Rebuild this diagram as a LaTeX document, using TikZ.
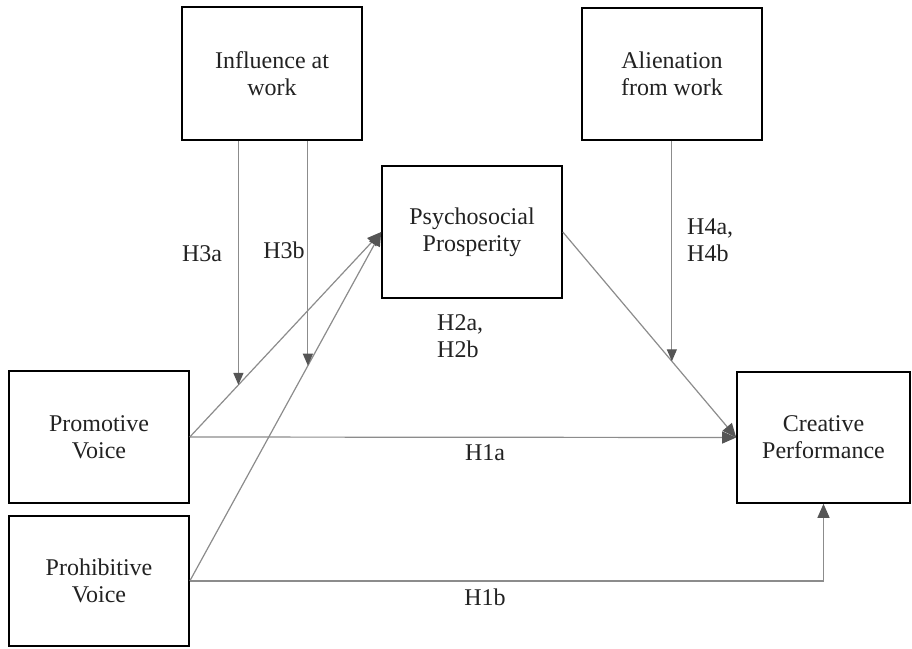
\documentclass[tikz,border=0pt]{standalone}
\usepackage{fontspec}
\setmainfont{Liberation Serif}
\usetikzlibrary{arrows.meta,calc}
\definecolor{linegray}{HTML}{8C8C8C}
\definecolor{headgray}{HTML}{555555}
\definecolor{txt}{HTML}{222222}
\begin{document}
\begin{tikzpicture}[x=1pt,y=-1pt,
  every node/.style={font=\fontsize{24}{27}\selectfont, text=txt},
  varbox/.style={draw=black, line width=1.6pt, rectangle, align=center, inner sep=0pt},
  conn/.style={draw=linegray, line width=1.2pt},
  arr/.style={conn, -{Triangle[length=14pt,width=12pt,fill=headgray,color=headgray]}},
  modarr/.style={conn, -{Triangle[length=12pt,width=10pt,fill=headgray,color=headgray]}},
  lab/.style={inner sep=0pt, align=left}]
\useasboundingbox (0,0) rectangle (912,648);
\fill[white] (0,0) rectangle (912,648);

\node[varbox, minimum width=180pt, minimum height=133pt] (inf) at (272,73.5) {Influence at\\work};
\node[varbox, minimum width=180pt, minimum height=132pt] (ali) at (672,74) {Alienation\\from work};
\node[varbox, minimum width=180pt, minimum height=132pt] (psy) at (472,232) {Psychosocial\\Prosperity};
\node[varbox, minimum width=180pt, minimum height=132pt] (pro) at (99,437) {Promotive\\Voice};
\node[varbox, minimum width=180pt, minimum height=130pt] (proh) at (99,581) {Prohibitive\\Voice};
\node[varbox, minimum width=173pt, minimum height=131pt] (cre) at (823.5,437.5) {Creative\\Performance};

% main paths
\draw[arr] (pro.east) -- (psy.west);
\draw[arr] (proh.east) -- (psy.west);
\draw[arr] (pro.east) -- (cre.west);
\draw[arr] (psy.east) -- (cre.west);
\draw[arr] (proh.east) -| (cre.south);

% moderation targets
\coordinate (m3a) at ($(pro.east)!0.254!(psy.west)$);
\coordinate (m3b) at ($(proh.east)!0.617!(psy.west)$);
\coordinate (m4) at ($(psy.east)!0.629!(cre.west)$);
\draw[modarr] (m3a |- inf.south) -- (m3a);
\draw[modarr] (m3b |- inf.south) -- (m3b);
\draw[modarr] (m4 |- ali.south) -- (m4);

% labels
\node[lab] (h3a) at (202,254) {H3a};
\node[lab] (h3b) at (284,250) {H3b};
\node[lab, anchor=west] (h2) at (437,336) {H2a,\\H2b};
\node[lab, anchor=west] (h4) at (687,240) {H4a,\\H4b};
\node[lab] (h1a) at (485,453) {H1a};
\node[lab] (h1b) at (485,597) {H1b};
\end{tikzpicture}
\end{document}
